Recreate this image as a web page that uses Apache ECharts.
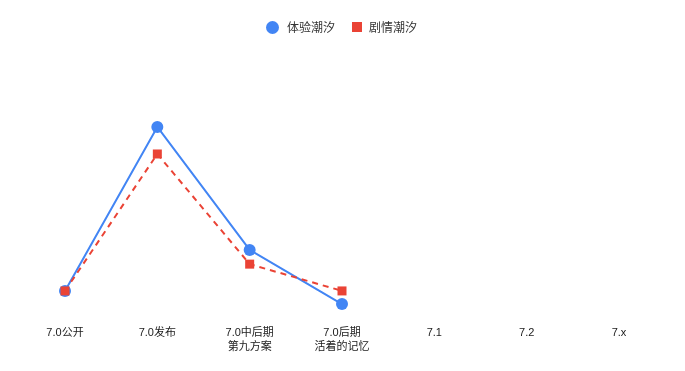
<!DOCTYPE html>
<html><head><meta charset="utf-8">
<script src="https://cdn.jsdelivr.net/npm/echarts@6/dist/echarts.min.js"></script>
<style>html,body{margin:0;padding:0;background:#fff}#c{width:685px;height:371px}</style>
</head><body><div id="c"></div>
<script>
const categories = ['7.0公开', '7.0发布', '7.0中后期\n第九方案', '7.0后期\n活着的记忆', '7.1', '7.2', '7.x'];
const seriesNames = ['体验潮汐', '剧情潮汐'];
const tiyan = [10.1, 71.3, 25.4, 5.2, null, null, null];
const juqing = [10.1, 61.2, 20.1, 10.1, null, null, null];
const chart = echarts.init(document.getElementById('c'));
const legendText = { fontSize: 12, color: '#333', fontFamily: 'Noto Sans CJK SC' };
chart.setOption({
  animation: false,
  legend: [
    { left: 261, top: 16, itemWidth: 19, itemHeight: 13, textStyle: legendText,
      data: [{ name: seriesNames[0], icon: 'circle' }] },
    { left: 347, top: 16, itemWidth: 14, itemHeight: 10, symbolKeepAspect: true, textStyle: legendText,
      data: [{ name: seriesNames[1], icon: 'path://M0,0h10v10h-10z' }] }
  ],
  grid: { left: 65, right: 66, top: 50, bottom: 53 },
  xAxis: {
    type: 'category', data: categories, boundaryGap: false,
    axisLine: { show: false }, axisTick: { show: false },
    axisLabel: { fontSize: 11, color: '#1a1a1a', margin: 8, lineHeight: 14, fontFamily: 'Liberation Sans, Noto Sans CJK SC' }
  },
  yAxis: { type: 'value', min: 0, max: 100, show: false, splitLine: { show: false } },
  series: [
    { name: seriesNames[0], type: 'line', data: tiyan, symbol: 'circle', symbolSize: 12,
      itemStyle: { color: '#4285F4' }, lineStyle: { color: '#4285F4', width: 2 } },
    { name: seriesNames[1], type: 'line', data: juqing, symbol: 'rect', symbolSize: 9,
      itemStyle: { color: '#EA4335' }, lineStyle: { color: '#EA4335', width: 2, type: [6, 5] } }
  ]
});
</script></body></html>
